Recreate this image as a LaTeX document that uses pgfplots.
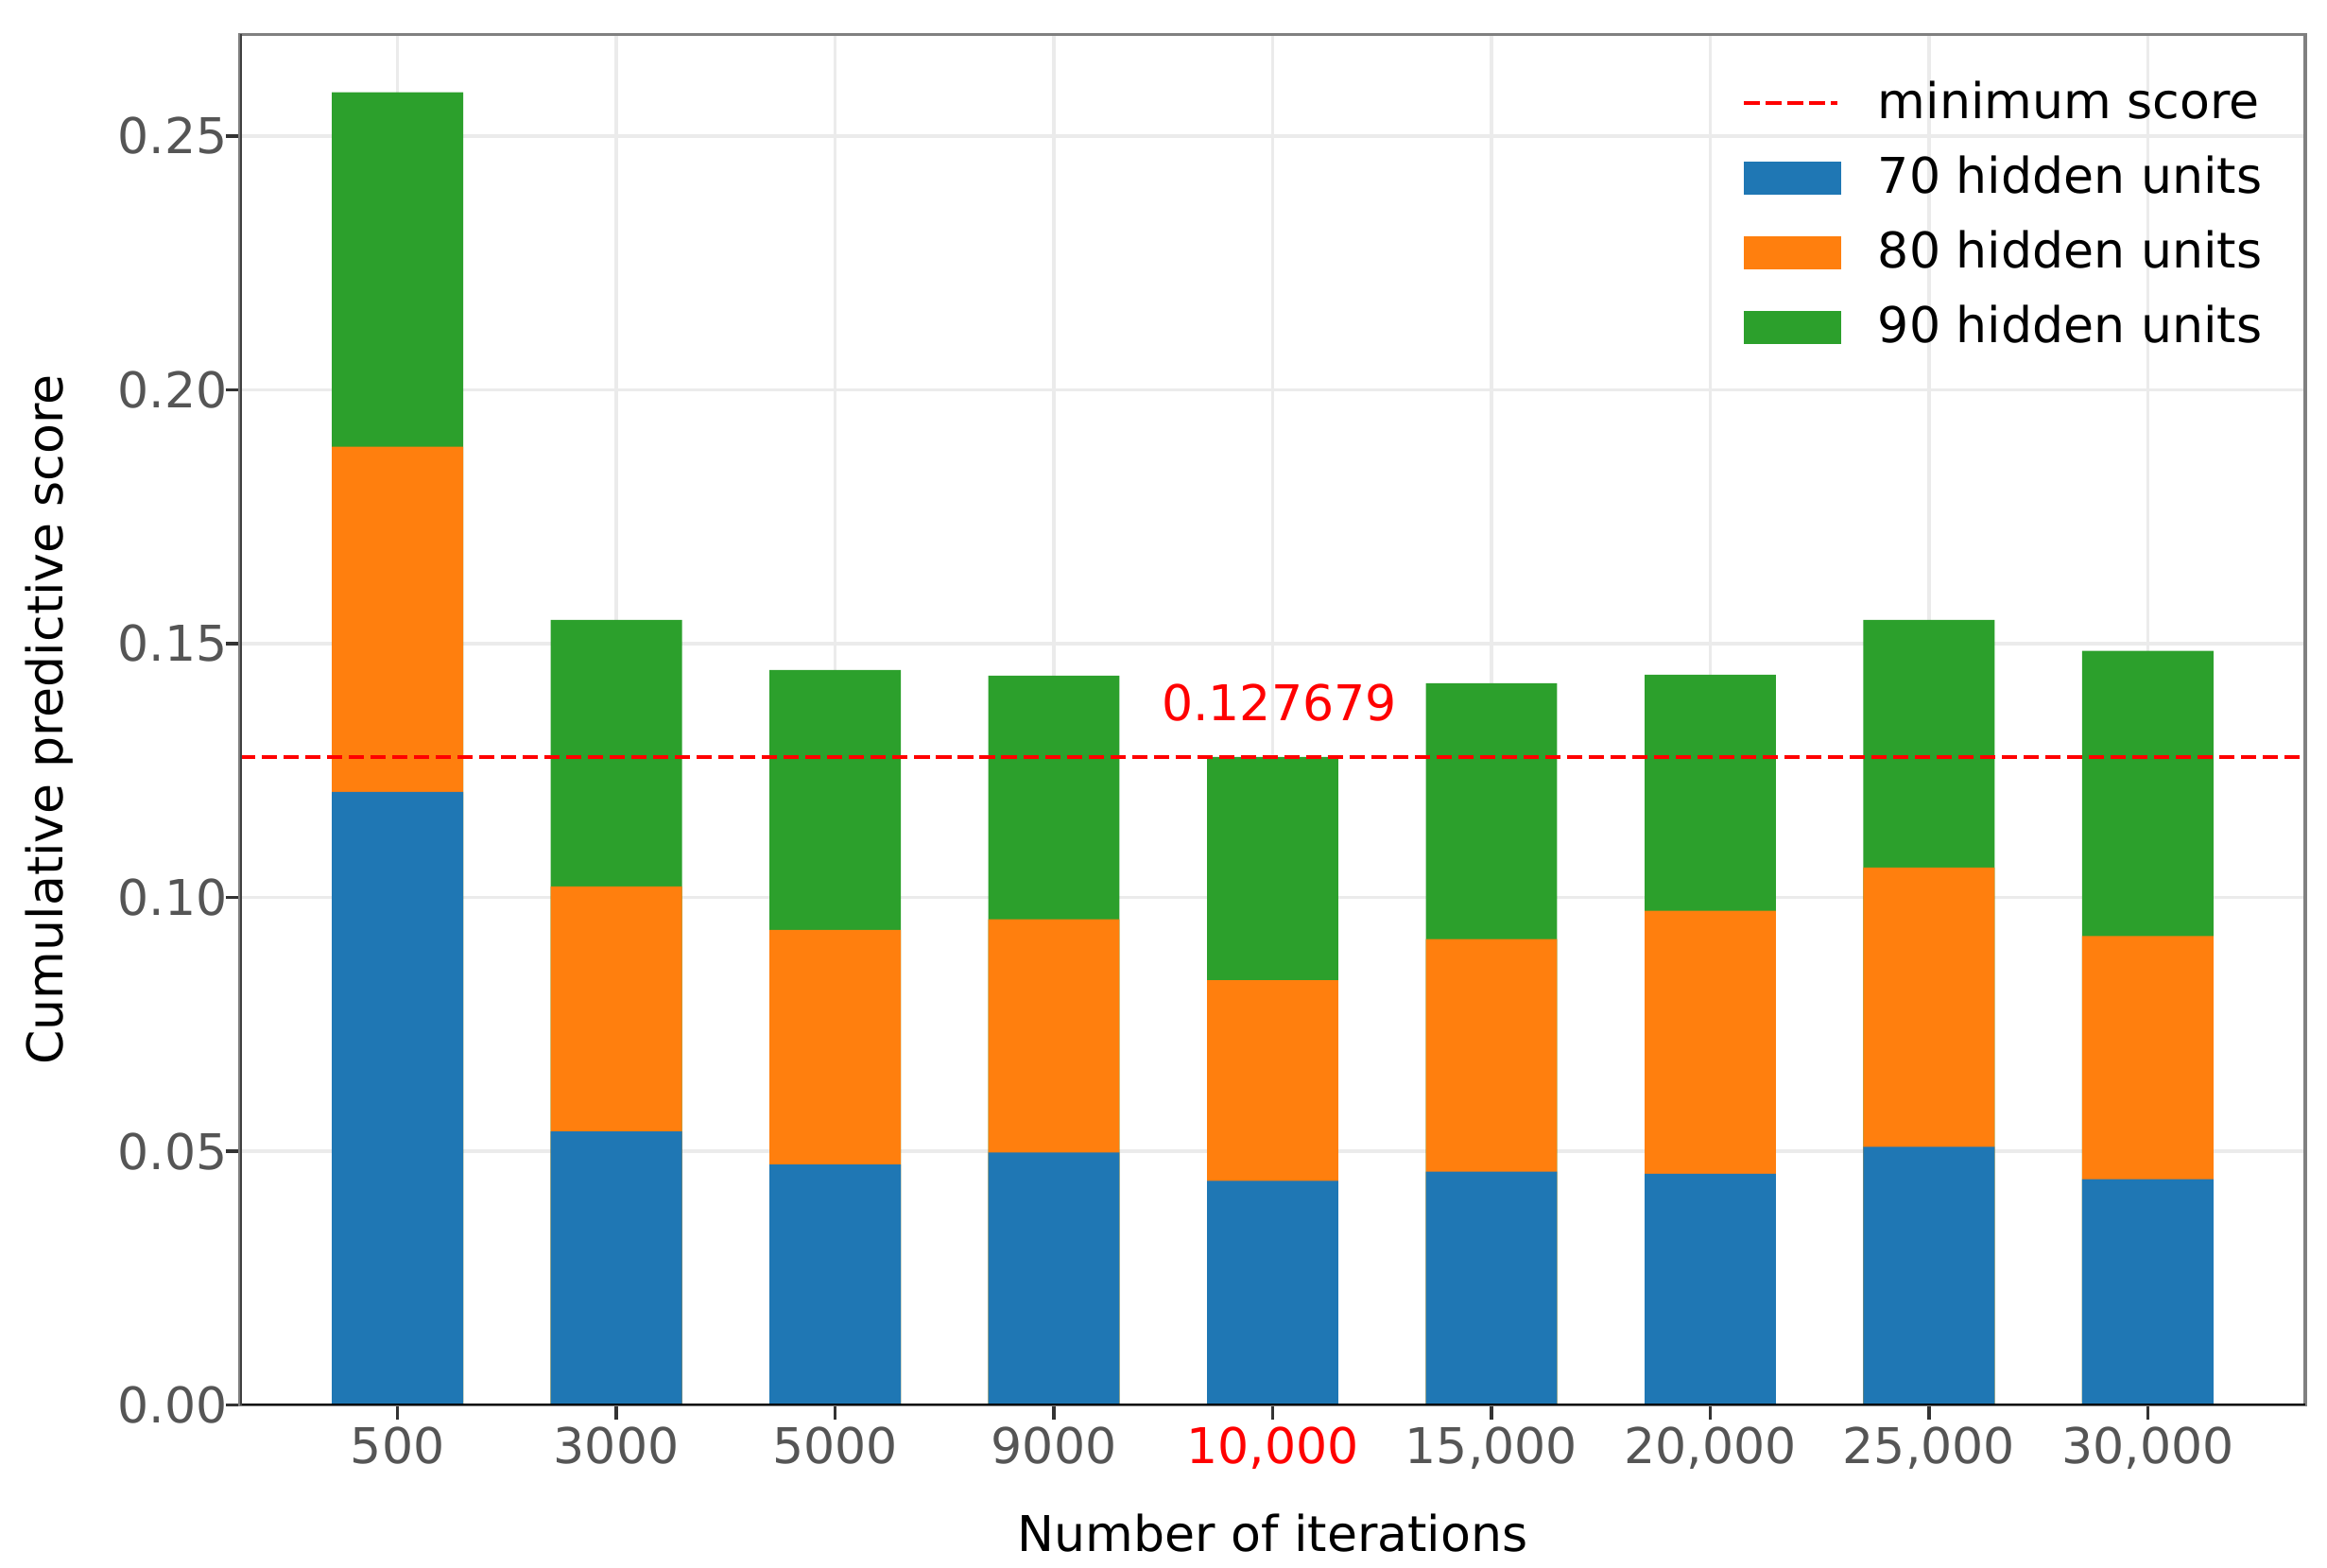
\documentclass[border=0pt]{standalone}
\usepackage{fontspec}
\setmainfont{DejaVu Sans}
\usepackage{pgfplots}
\pgfplotsset{compat=1.18}
\definecolor{tabblue}{HTML}{1F77B4}
\definecolor{taborange}{HTML}{FF7F0E}
\definecolor{tabgreen}{HTML}{2CA02C}
\definecolor{ticklab}{HTML}{555555}
\definecolor{gridc}{HTML}{EBEBEB}

\begin{document}
\begin{tikzpicture}[font=\fontsize{12}{14.4}\selectfont]
\begin{axis}[
    name=ax,
    scale only axis,
    width=503.2pt, height=334pt,
    xmin=-0.72, xmax=8.72,
    ymin=0, ymax=0.270,
    xtick={0,1,2,3,4,5,6,7,8},
    xticklabels={500,3000,5000,9000,{\textcolor{red}{10,000}},{15,000},{20,000},{25,000},{30,000}},
    ytick={0,0.05,0.10,0.15,0.20,0.25},
    yticklabel style={xshift=4pt, /pgf/number format/.cd, fixed, fixed zerofill, precision=2},
    xticklabel style={yshift=1.8pt},
    /pgf/number format/assume math mode=true,
    tick label style={text=ticklab},
    tick align=outside,
    major tick length=3.5pt,
    major tick style={black!80, line width=0.8pt},
    xtick pos=bottom, ytick pos=left,
    grid=major,
    major grid style={gridc, line width=0.8pt},
    axis line style={gray, line width=0.8pt},
    xlabel={Number of iterations},
    ylabel={Cumulative predictive score},
    xlabel style={at={(axis description cs:0.5,-0.093)}, anchor=center},
    ylabel style={at={(axis description cs:-0.0926,0.5)}, anchor=center},
    legend cell align=left,
    legend style={draw=none, fill=none, at={(axis description cs:0.9894,0.9784)},
        anchor=north east, row sep=3.6pt},
]
% legend entries (bars and line are drawn with forget plot below)
\addlegendimage{legend image code/.code={\draw[red, line width=1pt, dash pattern=on 3.7pt off 1.6pt] (0pt,0pt) -- (22.6pt,0pt); \path (30.4pt,0pt);}}
\addlegendentry{minimum score}
\addlegendimage{legend image code/.code={\fill[tabblue] (0pt,-3.85pt) rectangle (23.4pt,3.85pt); \path (30.4pt,0pt);}}
\addlegendentry{70 hidden units}
\addlegendimage{legend image code/.code={\fill[taborange] (0pt,-3.85pt) rectangle (23.4pt,3.85pt); \path (30.4pt,0pt);}}
\addlegendentry{80 hidden units}
\addlegendimage{legend image code/.code={\fill[tabgreen] (0pt,-3.85pt) rectangle (23.4pt,3.85pt); \path (30.4pt,0pt);}}
\addlegendentry{90 hidden units}

% stack tops: 70+80+90 hidden units
\addplot[ybar, bar width=0.6, bar shift=0pt, fill=tabgreen, draw=none, forget plot]
    coordinates {(0,0.2586)(1,0.1547)(2,0.1448)(3,0.1437)(4,0.127679)(5,0.1422)(6,0.1439)(7,0.1547)(8,0.1486)};
% 70+80 hidden units
\addplot[ybar, bar width=0.6, bar shift=0pt, fill=taborange, draw=none, forget plot]
    coordinates {(0,0.1888)(1,0.1022)(2,0.0936)(3,0.0957)(4,0.0837)(5,0.0918)(6,0.0974)(7,0.1059)(8,0.0924)};
% 70 hidden units
\addplot[ybar, bar width=0.6, bar shift=0pt, fill=tabblue, draw=none, forget plot]
    coordinates {(0,0.1208)(1,0.0539)(2,0.0474)(3,0.0498)(4,0.0442)(5,0.0460)(6,0.0456)(7,0.0509)(8,0.0445)};

% minimum score
\addplot[red, line width=1pt, dash pattern=on 3.7pt off 1.6pt, forget plot]
    coordinates {(-0.72,0.127679)(8.72,0.127679)};
\node[text=red, anchor=center] at (axis cs:4.03,0.1383) {0.127679};

\draw[black, line width=0.8pt] (rel axis cs:0,0) -- (rel axis cs:1,0);
\draw[black!75, line width=0.8pt] (rel axis cs:0,0) -- (rel axis cs:0,1);
\end{axis}
\pgfresetboundingbox
\useasboundingbox ([shift={(-58.5pt,-39.6pt)}]ax.south west) rectangle ([shift={(5.3pt,8.4pt)}]ax.north east);
\end{tikzpicture}
\end{document}
